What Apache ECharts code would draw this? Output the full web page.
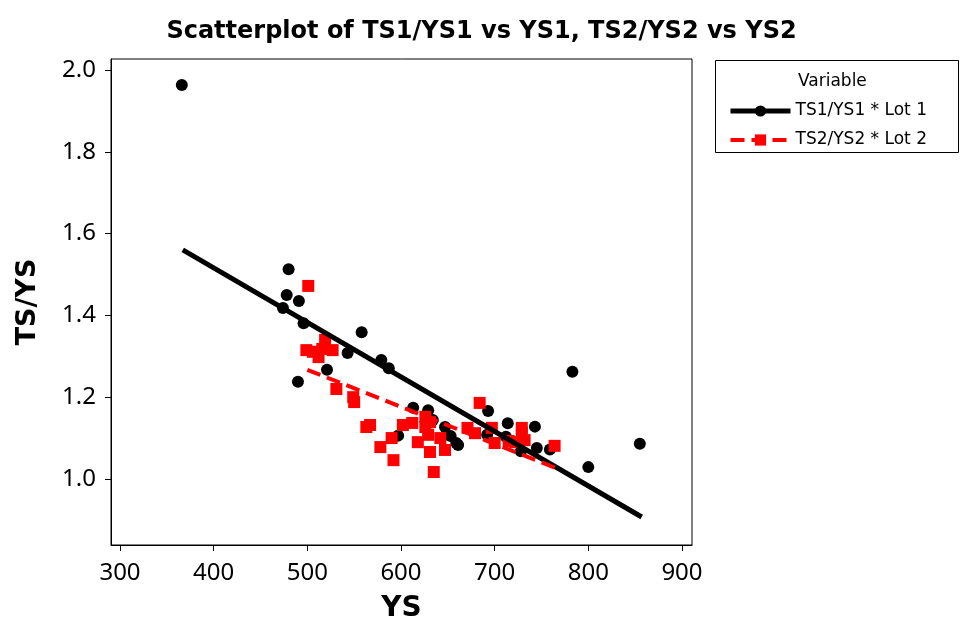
<!DOCTYPE html>
<html>
<head>
<meta charset="utf-8">
<script src="https://cdn.jsdelivr.net/npm/echarts@6/dist/echarts.min.js"></script>
<style>html,body{margin:0;padding:0;background:#fff}#c{width:963px;height:622px}</style>
</head>
<body>
<div id="c"></div>
<script>
const xTicks = [300, 400, 500, 600, 700, 800, 900];
const yTicks = [1.0, 1.2, 1.4, 1.6, 1.8, 2.0];

const lot1YS = [366, 480, 478, 474, 491, 496, 490, 521, 558, 543, 579, 587, 597, 613, 629, 634, 647, 653, 659, 661, 693, 692, 712, 714, 728, 743, 745, 759, 783, 800, 855];
const lot1Ratio = [1.963, 1.513, 1.450, 1.418, 1.435, 1.381, 1.238, 1.267, 1.359, 1.308, 1.291, 1.271, 1.106, 1.174, 1.168, 1.144, 1.127, 1.105, 1.088, 1.083, 1.166, 1.108, 1.103, 1.136, 1.068, 1.128, 1.076, 1.072, 1.262, 1.029, 1.086];

const lot2YS = [501, 499, 506, 512, 519, 527, 516, 531, 549, 550, 563, 567, 578, 590, 592, 602, 612, 618, 626, 631, 626, 629, 631, 635, 642, 647, 684, 671, 679, 697, 700, 715, 722, 729, 732, 729, 764];
const lot2Ratio = [1.472, 1.315, 1.311, 1.298, 1.340, 1.315, 1.318, 1.220, 1.200, 1.188, 1.127, 1.132, 1.078, 1.100, 1.046, 1.132, 1.137, 1.090, 1.152, 1.139, 1.127, 1.108, 1.066, 1.017, 1.100, 1.071, 1.186, 1.125, 1.112, 1.125, 1.088, 1.093, 1.090, 1.125, 1.095, 1.112, 1.081];

const fit1YS = [367, 857];
const fit1Ratio = [1.560, 0.907];
const fit2YS = [500, 765];
const fit2Ratio = [1.267, 1.027];

const name1 = 'TS1/YS1 * Lot 1';
const name2 = 'TS2/YS2 * Lot 2';
const FONT = 'DejaVu Sans';
const TICKFONT = 'Noto Sans';

function pairs(xs, ys) { return xs.map((x, i) => [x, ys[i]]); }

const chart = echarts.init(document.getElementById('c'), null, {renderer: 'canvas'});
chart.setOption({
  animation: false,
  backgroundColor: '#fff',
  title: [
    {text: 'Scatterplot of TS1/YS1 vs YS1, TS2/YS2 vs YS2', left: 'center', top: 15,
     textStyle: {fontFamily: FONT, fontWeight: 'bold', fontSize: 24, color: '#000'}},
    {text: 'Variable', left: 793, top: 68,
     textStyle: {fontFamily: FONT, fontWeight: 'normal', fontSize: 17, color: '#000'}}
  ],
  graphic: [{type: 'rect', left: 713, top: 58, shape: {width: 243, height: 92},
             style: {fill: 'none', stroke: '#000', lineWidth: 1}}],
  legend: {
    data: [{name: name1, lineStyle: {width: 5}}, {name: name2, lineStyle: {width: 4}}],
    orient: 'vertical', left: 723, top: 96,
    itemWidth: 60, itemHeight: 14, itemGap: 9,
    textStyle: {fontFamily: FONT, fontSize: 17, lineHeight: 20, color: '#000'}
  },
  grid: {left: 111, top: 59, right: 271, bottom: 77, show: true, borderColor: '#000', borderWidth: 1,
         outerBoundsMode: 'none', containLabel: false},
  xAxis: {
    type: 'value', min: 290.4, max: 910.7,
    name: 'YS', nameLocation: 'middle', nameGap: 50,
    nameTextStyle: {fontFamily: FONT, fontWeight: 'bold', fontSize: 28, color: '#000'},
    axisLine: {show: true, lineStyle: {color: '#000', width: 1}},
    axisTick: {show: true, length: 6, customValues: xTicks, lineStyle: {color: '#000'}},
    axisLabel: {customValues: xTicks, margin: 16, fontFamily: TICKFONT, fontSize: 24, color: '#000'},
    splitLine: {show: false}
  },
  yAxis: {
    type: 'value', min: 0.8386, max: 2.0268,
    name: 'TS/YS', nameLocation: 'middle', nameGap: 70,
    nameTextStyle: {fontFamily: FONT, fontWeight: 'bold', fontSize: 27, color: '#000'},
    axisLine: {show: true, lineStyle: {color: '#000', width: 1}},
    axisTick: {show: true, length: 6, customValues: yTicks, lineStyle: {color: '#000'}},
    axisLabel: {customValues: yTicks, margin: 15, fontFamily: TICKFONT, fontSize: 24, color: '#000',
                formatter: v => v.toFixed(1)},
    splitLine: {show: false}
  },
  series: [
    {type: 'scatter', name: 'Lot 1 points', data: pairs(lot1YS, lot1Ratio),
     symbol: 'circle', symbolSize: 12, itemStyle: {color: '#000', opacity: 1}, z: 2},
    {type: 'scatter', name: 'Lot 2 points', data: pairs(lot2YS, lot2Ratio),
     symbol: 'rect', symbolSize: 12, itemStyle: {color: '#ff0000', opacity: 1}, z: 3},
    {type: 'line', name: name1, data: pairs(fit1YS, fit1Ratio), showSymbol: false,
     symbol: 'circle', symbolSize: 12, itemStyle: {color: '#000'},
     lineStyle: {color: '#000', width: 5}, z: 4},
    {type: 'line', name: name2, data: pairs(fit2YS, fit2Ratio), showSymbol: false,
     symbol: 'rect', symbolSize: 12, itemStyle: {color: '#ff0000'},
     lineStyle: {color: '#ff0000', width: 4, type: [14, 7]}, z: 5}
  ]
});
</script>
</body>
</html>
